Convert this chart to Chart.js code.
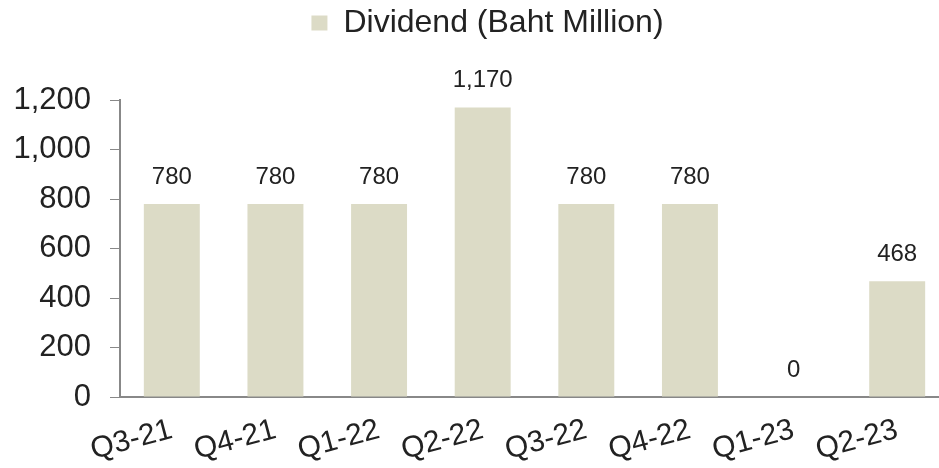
<!DOCTYPE html>
<html>
<head>
<meta charset="utf-8">
<script src="https://cdn.jsdelivr.net/npm/chart.js@4"></script>
<style>
  html, body { margin: 0; padding: 0; background: #fff; overflow: hidden; }
  #wrap { width: 976px; height: 468px; }
</style>
</head>
<body>
<div id="wrap"><canvas id="bar-chart-dividend"></canvas></div>
<script>
var quarters = ["Q3-21", "Q4-21", "Q1-22", "Q2-22", "Q3-22", "Q4-22", "Q1-23", "Q2-23"];
var dividend = [780, 780, 780, 1170, 780, 780, 0, 468];
var yTicks = [0, 200, 400, 600, 800, 1000, 1200];

var fontFam = '"Liberation Sans", Arial, sans-serif';

// draws the value above each bar
var valueLabels = {
  id: 'valueLabels',
  afterDatasetsDraw: function(chart) {
    var ctx = chart.ctx;
    var meta = chart.getDatasetMeta(0);
    ctx.save();
    ctx.font = '24px ' + fontFam;
    ctx.fillStyle = '#222';
    ctx.textAlign = 'center';
    ctx.textBaseline = 'middle';
    meta.data.forEach(function(bar, i) {
      ctx.fillText(dividend[i].toLocaleString('en-US'), bar.x, bar.y - 27);
    });
    ctx.restore();
  }
};

// extra room under the legend, and nudge it right a bit
var legendGap = {
  id: 'legendGap',
  beforeInit: function(chart) {
    var lg = chart.legend;
    var fit = lg.fit;
    var draw = lg.draw;
    lg.fit = function() {
      fit.call(lg);
      this.height += 51;
    };
    lg.draw = function() {
      chart.ctx.save();
      chart.ctx.translate(13, 0);
      draw.call(lg);
      chart.ctx.restore();
    };
  }
};

var ctxd = document.getElementById("bar-chart-dividend").getContext('2d');
var divChart = new Chart(ctxd, {
  type: 'bar',
  data: {
    labels: quarters,
    datasets: [{
      data: dividend,
      label: "Dividend (Baht Million)",
      backgroundColor: "#dcdbc6",
      barPercentage: 0.54,
      categoryPercentage: 1
    }]
  },
  plugins: [valueLabels, legendGap],
  options: {
    responsive: true,
    maintainAspectRatio: false,
    animation: false,
    layout: { padding: { top: 0, right: 27, left: 0, bottom: 0 } },
    plugins: {
      tooltip: { enabled: false },
      legend: {
        display: true,
        position: 'top',
        labels: {
          boxWidth: 16,
          boxHeight: 15,
          padding: 7,
          color: '#222',
          font: { size: 32, family: fontFam }
        }
      }
    },
    scales: {
      x: {
        grid: { display: false, drawTicks: true, tickLength: 9, color: '#888' },
        border: { display: true, color: '#888', width: 2 },
        ticks: {
          color: '#222',
          minRotation: 15,
          maxRotation: 15,
          padding: 6,
          font: { size: 30, family: fontFam }
        },
        afterFit: function(scale) { scale.height = 71; }
      },
      y: {
        min: 0,
        max: 1200,
        afterBuildTicks: function(scale) {
          scale.ticks = yTicks.map(function(v) { return { value: v }; });
        },
        grid: { drawOnChartArea: false, drawTicks: true, tickLength: 10, color: '#888' },
        border: { display: true, color: '#888', width: 2 },
        ticks: {
          color: '#222',
          padding: 19,
          font: { size: 31, family: fontFam },
          callback: function(v) { return v.toLocaleString('en-US'); }
        },
        afterFit: function(scale) { scale.width = 120; }
      }
    }
  }
});
</script>
</body>
</html>
